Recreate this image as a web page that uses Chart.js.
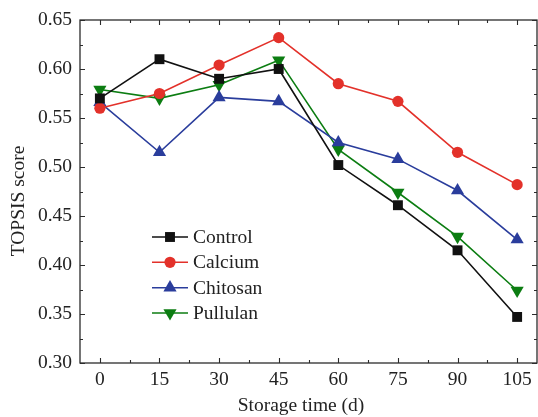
<!DOCTYPE html>
<html>
<head>
<meta charset="utf-8">
<style>
  html, body { margin: 0; padding: 0; background: #fff; }
  #wrap { width: 538px; height: 417px; }
</style>
<script src="https://cdn.jsdelivr.net/npm/chart.js@4/dist/chart.umd.min.js"></script>
</head>
<body>
<div id="wrap"><canvas id="c" width="538" height="417"></canvas></div>
<script>
// Storage days and TOPSIS scores per coating treatment
const days = [0, 15, 30, 45, 60, 75, 90, 105];
const control  = [0.570, 0.610, 0.590, 0.600, 0.502, 0.461, 0.415, 0.347];
const calcium  = [0.560, 0.575, 0.604, 0.632, 0.585, 0.567, 0.515, 0.482];
const chitosan = [0.566, 0.515, 0.571, 0.567, 0.525, 0.508, 0.476, 0.426];
const pullulan = [0.579, 0.570, 0.584, 0.609, 0.518, 0.474, 0.429, 0.374];

const seriesNames = ['Control', 'Calcium', 'Chitosan', 'Pullulan'];
const xTicks = [0, 15, 30, 45, 60, 75, 90, 105];
const yTicks = [0.30, 0.35, 0.40, 0.45, 0.50, 0.55, 0.60, 0.65];
const xTitle = 'Storage time (d)';
const yTitle = 'TOPSIS score';

const FONT = '"Liberation Serif", "Times New Roman", serif';
const FS = 19.5;
const AXIS = '#2b2b2b';

const styles = [
  { color: '#111111', pointStyle: 'rect', radius: 7, rotation: 0 },
  { color: '#e3312a', pointStyle: 'circle', radius: 5.6, rotation: 0 },
  { color: '#2a3d9c', pointStyle: 'triangle', radius: 7.6, rotation: 0 },
  { color: '#0c7d12', pointStyle: 'triangle', radius: 7.6, rotation: 180 }
];

const values = [control, calcium, chitosan, pullulan];
const datasets = values.map((vals, i) => ({
  label: seriesNames[i],
  data: days.map((d, j) => ({ x: d, y: vals[j] })),
  borderColor: styles[i].color,
  backgroundColor: styles[i].color,
  borderWidth: 1.6,
  pointStyle: styles[i].pointStyle,
  pointRadius: styles[i].radius,
  pointHoverRadius: styles[i].radius,
  pointRotation: styles[i].rotation,
  pointBorderWidth: 0,
  tension: 0
}));

// Frame, inward ticks, axis titles and the in-plot legend
const framePlugin = {
  id: 'frame',
  afterDraw(chart) {
    const { ctx, chartArea: a, scales } = chart;
    const xs = scales.x, ys = scales.y;
    ctx.save();
    ctx.strokeStyle = AXIS;
    ctx.lineWidth = 1.3;
    ctx.strokeRect(a.left, a.top, a.right - a.left, a.bottom - a.top);

    ctx.lineWidth = 1.1;
    ctx.beginPath();
    for (let v = 0; v <= 105; v += 7.5) {
      const major = v % 15 === 0;
      const len = major ? 5 : 3;
      const px = Math.round(xs.getPixelForValue(v)) + 0.5;
      ctx.moveTo(px, a.bottom); ctx.lineTo(px, a.bottom - len);
      ctx.moveTo(px, a.top); ctx.lineTo(px, a.top + len);
    }
    for (let k = 0; k <= 14; k++) {
      const v = 0.30 + k * 0.025;
      const major = k % 2 === 0;
      const len = major ? 5 : 3;
      const py = Math.round(ys.getPixelForValue(v)) + 0.5;
      ctx.moveTo(a.left, py); ctx.lineTo(a.left + len, py);
      ctx.moveTo(a.right, py); ctx.lineTo(a.right - len, py);
    }
    ctx.stroke();

    // axis titles
    ctx.fillStyle = '#222';
    ctx.font = FS + 'px ' + FONT;
    ctx.textAlign = 'center';
    ctx.textBaseline = 'middle';
    ctx.fillText(xTitle, 301, 406);
    ctx.save();
    ctx.translate(19, 201);
    ctx.rotate(-Math.PI / 2);
    ctx.fillText(yTitle, 0, 0);
    ctx.restore();

    // legend
    const lx = 152, lw = 36, rows = [237, 262.3, 287.7, 313];
    chart.data.datasets.forEach((ds, i) => {
      const y = rows[i];
      ctx.strokeStyle = ds.borderColor;
      ctx.lineWidth = 1.6;
      ctx.beginPath();
      ctx.moveTo(lx, y); ctx.lineTo(lx + lw, y);
      ctx.stroke();
      ctx.fillStyle = ds.backgroundColor;
      Chart.helpers.drawPoint(ctx, {
        pointStyle: ds.pointStyle,
        radius: ds.pointRadius,
        rotation: ds.pointRotation,
        borderWidth: 0
      }, lx + lw / 2, y);
      ctx.fillStyle = '#222';
      ctx.textAlign = 'left';
      ctx.textBaseline = 'middle';
      ctx.font = FS + 'px ' + FONT;
      ctx.fillText(ds.label, lx + lw + 5, y + 1);
    });
    ctx.restore();
  }
};

new Chart(document.getElementById('c'), {
  type: 'line',
  data: { datasets },
  options: {
    responsive: false,
    animation: false,
    events: [],
    layout: { autoPadding: false, padding: { top: 20, right: 1, left: 0, bottom: 0 } },
    plugins: { legend: { display: false }, tooltip: { enabled: false } },
    scales: {
      x: {
        type: 'linear',
        min: -5, max: 110,
        afterBuildTicks(s) { s.ticks = xTicks.map(v => ({ value: v })); },
        afterFit(s) { s.height = 54; s.paddingLeft = 0; s.paddingRight = 0; },
        grid: { display: false, drawTicks: false },
        border: { display: false },
        ticks: {
          color: '#222', padding: 5,
          font: { family: FONT, size: FS },
          autoSkip: false, maxRotation: 0,
          callback: v => String(v)
        }
      },
      y: {
        type: 'linear',
        min: 0.30, max: 0.65,
        afterBuildTicks(s) { s.ticks = yTicks.map(v => ({ value: v })); },
        afterFit(s) { s.width = 80; s.paddingTop = 0; s.paddingBottom = 0; },
        grid: { display: false, drawTicks: false },
        border: { display: false },
        ticks: {
          color: '#222', padding: 8,
          font: { family: FONT, size: FS },
          autoSkip: false,
          callback: v => Number(v).toFixed(2)
        }
      }
    }
  },
  plugins: [framePlugin]
});
</script>
</body>
</html>
